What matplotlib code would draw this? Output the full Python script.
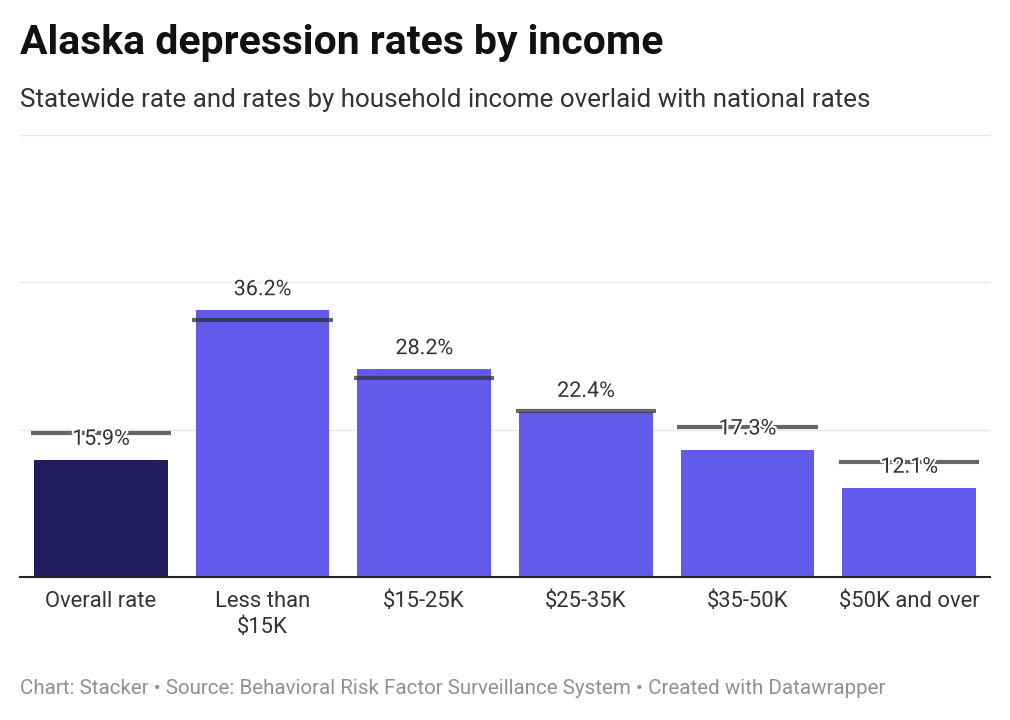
import matplotlib.pyplot as plt
import matplotlib.patheffects as pe

plt.rcParams['font.family'] = ['Roboto', 'DejaVu Sans']

# data
categories = ['Overall rate', 'Less than\n$15K', '$15-25K', '$25-35K', '$35-50K', '$50K and over']
alaska_rates = [15.9, 36.2, 28.2, 22.4, 17.3, 12.1]
national_rates = [19.6, 34.9, 27.0, 22.5, 20.4, 15.6]
bar_colors = ['#221d5c', '#615aeb', '#615aeb', '#615aeb', '#615aeb', '#615aeb']

fig = plt.figure(figsize=(10.1, 7.2), dpi=100)
ax = fig.add_axes([20/1010, 1 - 577/720, 970/1010, (577-135)/720])

x = list(range(len(categories)))
ax.bar(x, alaska_rates, width=0.827, color=bar_colors, zorder=2)

# national rate markers
for i, v in enumerate(national_rates):
    ax.plot([i - 0.435, i + 0.435], [v, v], color='#333333', alpha=0.75,
            lw=3, solid_capstyle='butt', zorder=3)

# value labels
for i, v in enumerate(alaska_rates):
    ax.text(i, v + 2.8, f'{v}%', ha='center', va='center', fontsize=15.5,
            color='#333333', zorder=4,
            path_effects=[pe.withStroke(linewidth=3, foreground='white')])

ax.set_xlim(-0.5, 5.5)
ax.set_ylim(0, 60)
ax.set_yticks([20, 40, 60])
ax.yaxis.grid(True, color='#e6e6e6', lw=1)
ax.set_axisbelow(True)
ax.tick_params(axis='y', length=0, labelleft=False)
ax.tick_params(axis='x', length=0, pad=10, labelsize=15.8, labelcolor='#333333')
ax.set_xticks(x)
ax.set_xticklabels(categories, linespacing=1.35, va='top')
for s in ['left', 'right', 'top']:
    ax.spines[s].set_visible(False)
ax.spines['bottom'].set_color('#222222')
ax.spines['bottom'].set_linewidth(1.5)
ax.spines['bottom'].set_zorder(5)

fig.text(20/1010, 1 - 43/720, 'Alaska depression rates by income', fontsize=29.4,
         fontweight='bold', color='#111111', va='center', ha='left')
fig.text(20/1010, 1 - 100/720, 'Statewide rate and rates by household income overlaid with national rates',
         fontsize=18.7, color='#333333', va='center', ha='left')
fig.text(20/1010, 1 - 689/720, 'Chart: Stacker \u2022 Source: Behavioral Risk Factor Surveillance System \u2022 Created with Datawrapper',
         fontsize=14.8, color='#909090', va='center', ha='left')

fig.savefig('out.png', dpi=100)
